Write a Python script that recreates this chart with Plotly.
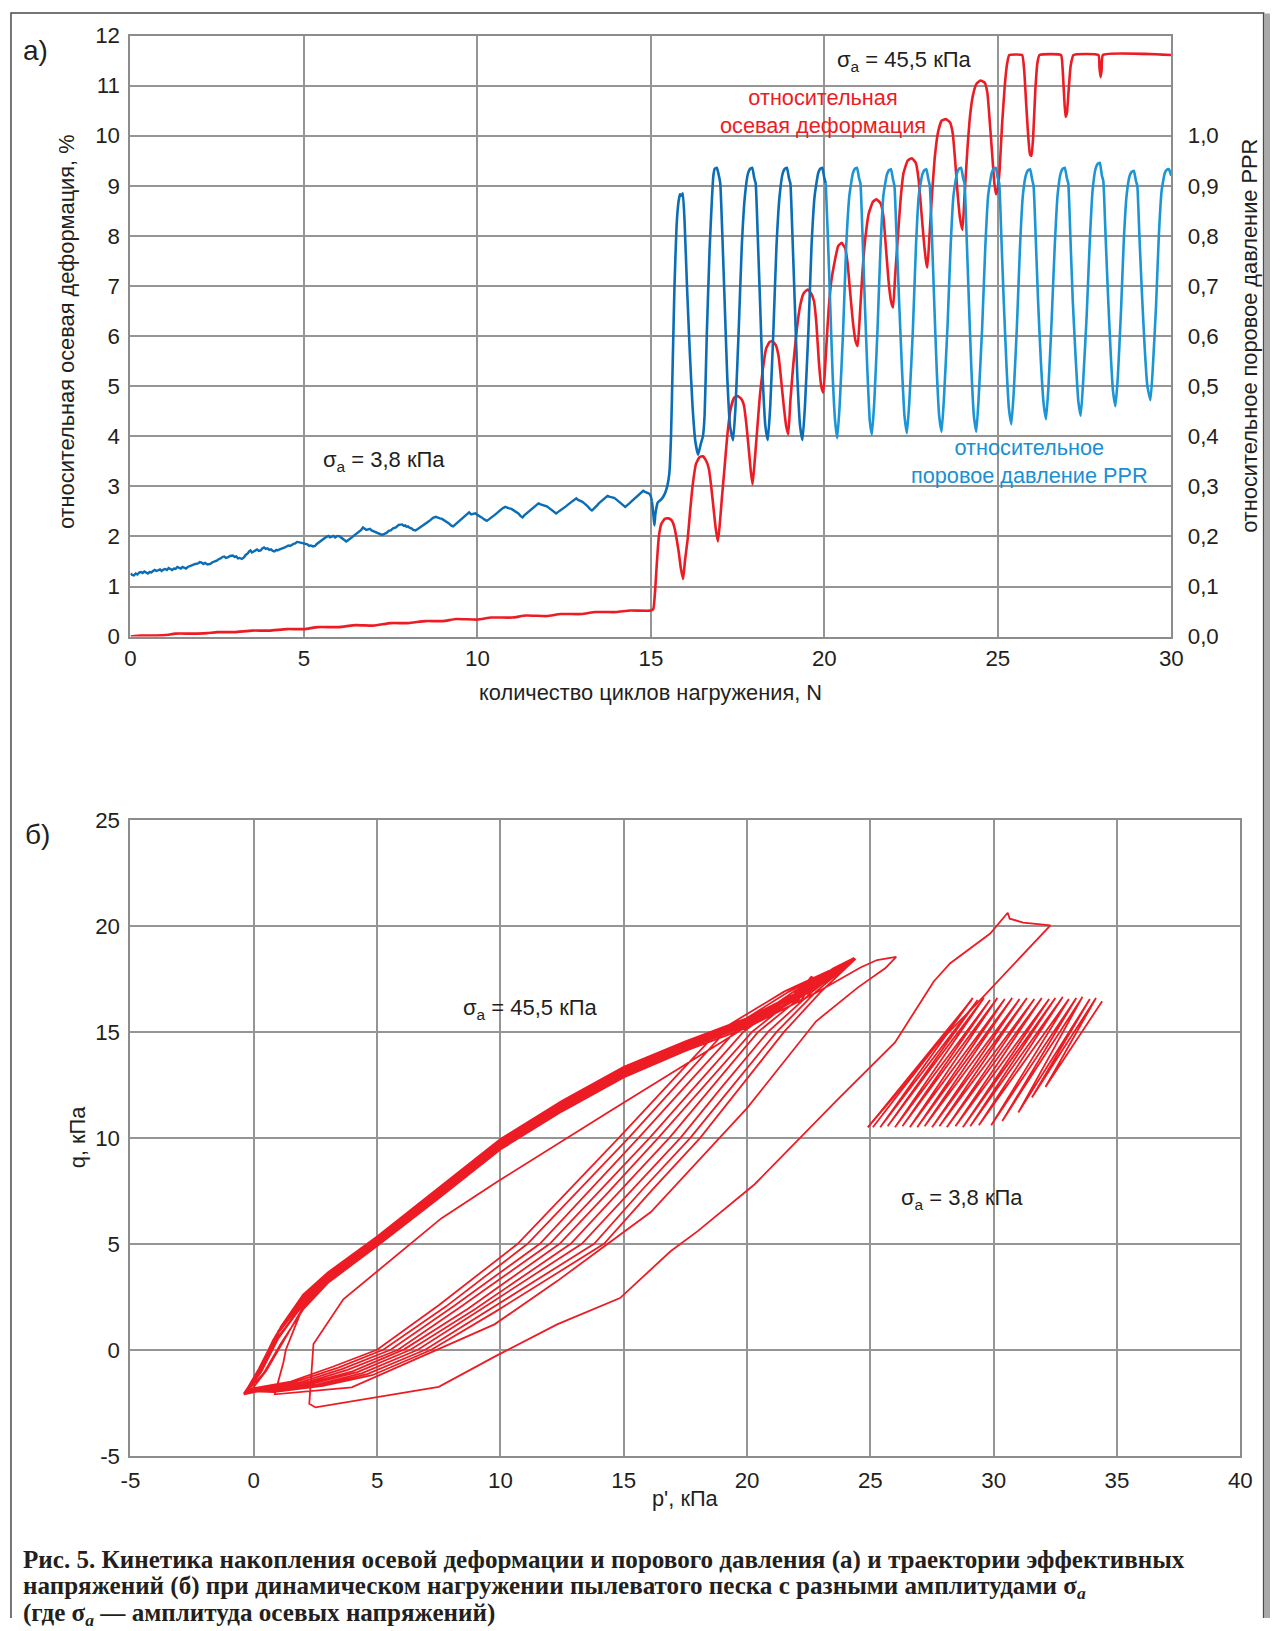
import plotly.graph_objects as go

W, H = 1282, 1631

# ---------------- panel (a): data ----------------
cycle_ticks = [0, 5, 10, 15, 20, 25, 30]
strain_ticks = list(range(0, 13))
ppr_tickvals = [0.0, 0.1, 0.2, 0.3, 0.4, 0.5, 0.6, 0.7, 0.8, 0.9, 1.0]
ppr_ticktext = ["0,0", "0,1", "0,2", "0,3", "0,4", "0,5", "0,6", "0,7", "0,8", "0,9", "1,0"]

# relative axial strain, % (N, value)
strain_pts = [
    (0, 0.0), (0.3, 0.02), (0.6, 0.02), (1.0, 0.03), (1.3, 0.06), (1.8, 0.06), (2.2, 0.07), (2.5, 0.09),
    (3.0, 0.09), (3.5, 0.12), (4.0, 0.12), (4.5, 0.15), (5.0, 0.15), (5.4, 0.19), (6.0, 0.19), (6.5, 0.23),
    (7.0, 0.22), (7.5, 0.27), (8.0, 0.27), (8.5, 0.31), (9.0, 0.31), (9.4, 0.35), (10.0, 0.34), (10.4, 0.38),
    (11.0, 0.38), (11.4, 0.42), (12.0, 0.41), (12.4, 0.45), (13.0, 0.45), (13.4, 0.49), (14.0, 0.49),
    (14.4, 0.52), (15.0, 0.52), (15.07, 0.55), (15.12, 0.9), (15.17, 1.45), (15.23, 2.0), (15.3, 2.25),
    (15.4, 2.35), (15.5, 2.36), (15.6, 2.32), (15.67, 2.2), (15.73, 2.0), (15.8, 1.7), (15.86, 1.38),
    (15.93, 1.15), (15.98, 1.5), (16.06, 1.95), (16.13, 2.5), (16.2, 3.0), (16.3, 3.45), (16.4, 3.58),
    (16.5, 3.6), (16.6, 3.5), (16.67, 3.35), (16.73, 3.05), (16.8, 2.6), (16.87, 2.15), (16.93, 1.9),
    (16.98, 2.2), (17.05, 2.8), (17.12, 3.35), (17.2, 4.0), (17.3, 4.55), (17.4, 4.77), (17.5, 4.8),
    (17.6, 4.75), (17.68, 4.62), (17.75, 4.25), (17.82, 3.75), (17.88, 3.3), (17.93, 3.04), (17.98, 3.4),
    (18.06, 4.1), (18.14, 4.8), (18.22, 5.3), (18.32, 5.75), (18.42, 5.88), (18.5, 5.9), (18.6, 5.82),
    (18.68, 5.6), (18.75, 5.15), (18.83, 4.6), (18.9, 4.2), (18.96, 4.04), (19.02, 4.7), (19.1, 5.4),
    (19.2, 6.1), (19.3, 6.6), (19.4, 6.85), (19.52, 6.93), (19.62, 6.85), (19.7, 6.7), (19.77, 6.25),
    (19.84, 5.5), (19.91, 5.0), (19.97, 4.87), (20.04, 5.6), (20.12, 6.5), (20.2, 7.1), (20.3, 7.5),
    (20.4, 7.8), (20.5, 7.86), (20.6, 7.75), (20.67, 7.45), (20.74, 6.9), (20.82, 6.3), (20.9, 5.9),
    (20.96, 5.8), (21.03, 6.5), (21.1, 7.3), (21.18, 7.95), (21.28, 8.45), (21.4, 8.68), (21.5, 8.73),
    (21.62, 8.65), (21.7, 8.4), (21.77, 7.8), (21.85, 7.1), (21.92, 6.7), (21.98, 6.57), (22.04, 7.2),
    (22.12, 8.0), (22.2, 8.75), (22.28, 9.25), (22.4, 9.5), (22.52, 9.55), (22.64, 9.45), (22.72, 9.1),
    (22.8, 8.45), (22.88, 7.8), (22.94, 7.45), (22.97, 7.37), (23.03, 8.0), (23.1, 8.8), (23.18, 9.55),
    (23.27, 10.05), (23.38, 10.3), (23.5, 10.33), (23.62, 10.27), (23.7, 10.05), (23.77, 9.5),
    (23.84, 8.85), (23.91, 8.35), (23.98, 8.12), (24.04, 8.8), (24.12, 9.7), (24.2, 10.4), (24.28, 10.8),
    (24.38, 11.03), (24.5, 11.1), (24.62, 11.06), (24.7, 10.85), (24.77, 10.25), (24.84, 9.6),
    (24.9, 9.05), (24.95, 8.83), (25.0, 8.95), (25.05, 9.3), (25.12, 10.2), (25.2, 11.0), (25.27, 11.45),
    (25.33, 11.61), (25.7, 11.61), (25.76, 11.3), (25.82, 10.6), (25.88, 9.95), (25.93, 9.62),
    (25.97, 9.6), (26.02, 10.0), (26.08, 10.9), (26.14, 11.45), (26.2, 11.61), (26.82, 11.61),
    (26.87, 11.3), (26.91, 10.8), (26.95, 10.38), (26.99, 10.45), (27.04, 10.9), (27.1, 11.4),
    (27.18, 11.61), (27.9, 11.61), (27.93, 11.35), (27.96, 11.17), (27.99, 11.3), (28.03, 11.61),
    (30.0, 11.61),
]

# pore pressure ratio PPR during the 3.8 kPa stage (noisy, slowly rising)
ppr_stage1_pts = [
    (0, 0.126), (0.05, 0.123), (0.1, 0.122), (0.15, 0.126), (0.2, 0.124), (0.25, 0.128), (0.3, 0.129),
    (0.35, 0.127), (0.4, 0.130), (0.45, 0.128), (0.5, 0.126), (0.55, 0.129), (0.6, 0.128), (0.65, 0.131),
    (0.7, 0.133), (0.75, 0.131), (0.8, 0.133), (0.85, 0.134), (0.9, 0.131), (0.95, 0.134), (1.0, 0.135),
    (1.05, 0.133), (1.1, 0.137), (1.15, 0.135), (1.2, 0.133), (1.25, 0.136), (1.3, 0.135), (1.35, 0.139),
    (1.4, 0.138), (1.45, 0.136), (1.5, 0.139), (1.55, 0.138), (1.6, 0.136), (1.65, 0.139), (1.7, 0.140),
    (1.75, 0.142), (1.8, 0.143), (1.87, 0.145), (1.95, 0.146), (2.0, 0.149), (2.05, 0.148),
    (2.1, 0.145), (2.15, 0.147), (2.22, 0.144), (2.3, 0.145), (2.35, 0.148), (2.4, 0.149), (2.45, 0.151),
    (2.5, 0.152), (2.55, 0.155), (2.6, 0.156), (2.65, 0.159), (2.7, 0.160), (2.75, 0.157), (2.8, 0.158),
    (2.87, 0.161), (2.95, 0.162), (3.0, 0.159), (3.05, 0.160), (3.1, 0.156), (3.15, 0.157),
    (3.21, 0.155), (3.27, 0.158), (3.32, 0.163), (3.38, 0.166), (3.42, 0.170), (3.46, 0.172),
    (3.5, 0.168), (3.55, 0.170), (3.6, 0.173), (3.65, 0.174), (3.7, 0.171), (3.75, 0.172), (3.8, 0.176),
    (3.85, 0.178), (3.9, 0.175), (3.95, 0.176), (4.0, 0.173), (4.05, 0.174), (4.1, 0.171), (4.15, 0.170),
    (4.2, 0.173), (4.23, 0.172), (4.3, 0.174), (4.35, 0.175), (4.4, 0.177), (4.45, 0.178), (4.5, 0.180),
    (4.55, 0.182), (4.6, 0.181), (4.65, 0.184), (4.7, 0.185), (4.75, 0.186), (4.8, 0.189), (4.87, 0.188),
    (4.93, 0.187), (5.0, 0.186), (5.05, 0.185), (5.1, 0.184), (5.15, 0.181), (5.2, 0.182), (5.26, 0.180),
    (5.32, 0.181), (5.37, 0.185), (5.42, 0.188), (5.46, 0.190), (5.5, 0.192), (5.55, 0.195), (5.6, 0.197),
    (5.65, 0.199), (5.71, 0.201), (5.75, 0.198), (5.8, 0.199), (5.85, 0.201), (5.9, 0.198), (5.96, 0.201),
    (6.03, 0.200), (6.08, 0.197), (6.12, 0.196), (6.17, 0.192), (6.22, 0.190), (6.28, 0.193),
    (6.33, 0.195), (6.4, 0.199), (6.45, 0.202), (6.5, 0.205), (6.55, 0.207), (6.6, 0.210), (6.65, 0.213),
    (6.7, 0.218), (6.73, 0.216), (6.8, 0.213), (6.85, 0.214), (6.9, 0.215), (6.95, 0.212), (7.02, 0.210),
    (7.1, 0.208), (7.17, 0.205), (7.25, 0.203), (7.32, 0.205), (7.38, 0.207), (7.44, 0.211), (7.5, 0.212),
    (7.57, 0.216), (7.65, 0.218), (7.73, 0.223), (7.83, 0.224), (7.88, 0.221), (7.92, 0.222),
    (7.96, 0.219), (8.0, 0.220), (8.05, 0.217), (8.1, 0.216), (8.15, 0.213), (8.21, 0.212), (8.28, 0.215),
    (8.35, 0.218), (8.42, 0.222), (8.5, 0.226), (8.57, 0.229), (8.65, 0.233), (8.72, 0.237), (8.8, 0.239),
    (8.86, 0.237), (8.92, 0.236), (8.98, 0.235), (9.05, 0.232), (9.12, 0.229), (9.18, 0.226),
    (9.24, 0.222), (9.3, 0.220), (9.35, 0.223), (9.4, 0.226), (9.45, 0.229), (9.5, 0.233), (9.56, 0.236),
    (9.62, 0.240), (9.69, 0.245), (9.76, 0.248), (9.82, 0.244), (9.88, 0.245), (9.94, 0.246),
    (10.0, 0.243), (10.06, 0.241), (10.12, 0.238), (10.2, 0.234), (10.27, 0.231), (10.33, 0.234),
    (10.4, 0.237), (10.45, 0.240), (10.5, 0.243), (10.57, 0.247), (10.65, 0.252), (10.72, 0.256),
    (10.8, 0.259), (10.86, 0.257), (10.92, 0.256), (10.98, 0.255), (11.05, 0.252), (11.12, 0.249),
    (11.18, 0.246), (11.24, 0.241), (11.3, 0.238), (11.35, 0.242), (11.4, 0.245), (11.45, 0.249),
    (11.5, 0.252), (11.56, 0.255), (11.62, 0.259), (11.69, 0.263), (11.76, 0.266), (11.82, 0.264),
    (11.88, 0.263), (11.94, 0.262), (12.0, 0.260), (12.06, 0.257), (12.12, 0.254), (12.2, 0.249),
    (12.27, 0.246), (12.33, 0.249), (12.4, 0.252), (12.47, 0.256), (12.55, 0.260), (12.62, 0.264),
    (12.7, 0.268), (12.77, 0.271), (12.85, 0.276), (12.9, 0.273), (12.95, 0.272), (13.0, 0.270),
    (13.05, 0.268), (13.12, 0.264), (13.18, 0.260), (13.24, 0.255), (13.3, 0.252), (13.35, 0.255),
    (13.4, 0.258), (13.45, 0.262), (13.5, 0.266), (13.56, 0.270), (13.62, 0.274), (13.68, 0.278),
    (13.75, 0.281), (13.82, 0.279), (13.88, 0.278), (13.94, 0.277), (14.0, 0.274), (14.06, 0.271),
    (14.12, 0.268), (14.19, 0.263), (14.26, 0.259), (14.32, 0.262), (14.38, 0.266), (14.44, 0.270),
    (14.5, 0.274), (14.57, 0.278), (14.65, 0.283), (14.72, 0.287), (14.78, 0.291), (14.83, 0.289),
    (14.88, 0.288), (14.93, 0.286), (14.97, 0.284), (15.0, 0.280), (15.03, 0.270),
]

# pore pressure ratio PPR at the start of the 45.5 kPa stage (darker blue)
ppr_dark_pts = [
    (15.03, 0.270),
    (15.07, 0.245), (15.1, 0.222), (15.13, 0.245), (15.2, 0.268), (15.3, 0.274), (15.4, 0.285),
    (15.47, 0.300), (15.53, 0.325), (15.58, 0.40), (15.63, 0.55), (15.68, 0.70), (15.74, 0.82),
    (15.8, 0.870), (15.84, 0.883), (15.88, 0.880), (15.92, 0.885), (15.97, 0.83), (16.04, 0.70),
    (16.12, 0.57), (16.2, 0.46), (16.28, 0.39), (16.36, 0.363),
    (16.44, 0.385), (16.5, 0.40), (16.55, 0.445), (16.61, 0.60), (16.69, 0.77), (16.76, 0.875),
    (16.8, 0.92), (16.84, 0.934), (16.9, 0.936), (16.96, 0.92), (17.0, 0.905), (17.06, 0.80),
    (17.13, 0.66), (17.2, 0.52), (17.28, 0.42), (17.37, 0.392),
    (17.44, 0.46), (17.53, 0.61), (17.62, 0.78), (17.71, 0.88), (17.8, 0.925), (17.86, 0.934),
    (17.92, 0.936), (17.98, 0.915), (18.02, 0.905), (18.08, 0.80), (18.15, 0.66), (18.22, 0.52),
    (18.3, 0.42), (18.37, 0.392),
    (18.44, 0.46), (18.53, 0.61), (18.62, 0.78), (18.71, 0.88), (18.8, 0.925), (18.86, 0.934),
    (18.92, 0.936), (18.98, 0.915), (19.02, 0.905), (19.08, 0.80), (19.15, 0.66), (19.22, 0.52),
    (19.3, 0.42), (19.37, 0.392),
    (19.44, 0.46), (19.54, 0.61), (19.63, 0.78), (19.72, 0.88), (19.82, 0.925), (19.88, 0.934),
    (19.94, 0.936), (20.0, 0.915), (20.04, 0.905),
]

# pore pressure ratio PPR, later cycles (lighter blue)
ppr_light_pts = [
    (20.04, 0.905), (20.1, 0.80), (20.17, 0.66), (20.24, 0.52), (20.31, 0.43), (20.37, 0.396),
    (20.44, 0.46), (20.54, 0.61), (20.63, 0.78), (20.72, 0.88), (20.82, 0.925), (20.88, 0.934),
    (20.94, 0.936), (21.0, 0.915), (21.04, 0.905), (21.1, 0.80), (21.17, 0.66), (21.24, 0.53),
    (21.31, 0.43), (21.37, 0.403),
    (21.44, 0.47), (21.53, 0.61), (21.62, 0.78), (21.7, 0.88), (21.8, 0.922), (21.86, 0.931),
    (21.92, 0.933), (21.98, 0.912), (22.02, 0.90), (22.08, 0.80), (22.16, 0.66), (22.24, 0.53),
    (22.31, 0.44), (22.38, 0.406),
    (22.45, 0.47), (22.55, 0.61), (22.64, 0.78), (22.72, 0.88), (22.82, 0.922), (22.88, 0.931),
    (22.94, 0.933), (23.0, 0.912), (23.04, 0.90), (23.1, 0.80), (23.17, 0.66), (23.24, 0.53),
    (23.31, 0.44), (23.38, 0.409),
    (23.45, 0.48), (23.55, 0.62), (23.64, 0.78), (23.72, 0.88), (23.82, 0.925), (23.88, 0.934),
    (23.94, 0.936), (24.0, 0.915), (24.04, 0.905), (24.1, 0.80), (24.17, 0.66), (24.24, 0.53),
    (24.31, 0.44), (24.38, 0.409),
    (24.45, 0.48), (24.55, 0.62), (24.64, 0.78), (24.72, 0.88), (24.82, 0.925), (24.88, 0.934),
    (24.94, 0.936), (25.0, 0.915), (25.04, 0.905), (25.1, 0.80), (25.17, 0.67), (25.25, 0.54),
    (25.32, 0.455), (25.39, 0.424),
    (25.46, 0.49), (25.55, 0.62), (25.64, 0.78), (25.72, 0.88), (25.81, 0.922), (25.87, 0.931),
    (25.93, 0.933), (25.99, 0.912), (26.03, 0.90), (26.09, 0.80), (26.16, 0.67), (26.24, 0.55),
    (26.32, 0.465), (26.39, 0.434),
    (26.46, 0.50), (26.55, 0.63), (26.64, 0.78), (26.72, 0.88), (26.81, 0.925), (26.87, 0.934),
    (26.93, 0.936), (26.99, 0.915), (27.03, 0.905), (27.09, 0.80), (27.16, 0.67), (27.24, 0.56),
    (27.32, 0.47), (27.39, 0.441),
    (27.46, 0.51), (27.56, 0.64), (27.65, 0.79), (27.73, 0.89), (27.82, 0.935), (27.88, 0.944),
    (27.94, 0.946), (28.0, 0.92), (28.04, 0.91), (28.1, 0.81), (28.17, 0.69), (28.25, 0.57),
    (28.32, 0.49), (28.39, 0.46),
    (28.46, 0.52), (28.55, 0.65), (28.63, 0.79), (28.71, 0.88), (28.8, 0.92), (28.86, 0.928),
    (28.92, 0.93), (28.98, 0.91), (29.02, 0.90), (29.08, 0.80), (29.15, 0.69), (29.23, 0.58),
    (29.31, 0.50), (29.4, 0.472),
    (29.47, 0.54), (29.56, 0.66), (29.64, 0.80), (29.72, 0.89), (29.81, 0.925), (29.87, 0.932),
    (29.93, 0.933), (30.0, 0.92),
]

# ---------------- panel (b): data ----------------
p_ticks = [-5, 0, 5, 10, 15, 20, 25, 30, 35, 40]
q_ticks = [-5, 0, 5, 10, 15, 20, 25]

# stress path at sigma_a = 3.8 kPa (p', q)
path_38 = [
    (34.4, 16.45), (32.1, 12.4), (34.15, 16.6), (31.55, 11.9), (33.9, 16.55), (31.0, 11.2),
    (33.6, 16.65), (30.35, 10.8), (33.35, 16.6), (29.9, 10.6), (33.05, 16.55), (29.4, 10.6),
    (32.8, 16.65), (29.05, 10.55), (32.5, 16.6), (28.75, 10.5), (32.25, 16.55), (28.45, 10.55),
    (31.95, 16.6), (28.1, 10.5), (31.65, 16.55), (27.8, 10.55), (31.35, 16.6), (27.5, 10.5),
    (31.05, 16.55), (27.2, 10.55), (30.75, 16.6), (26.9, 10.5), (30.45, 16.55), (26.6, 10.5),
    (30.15, 16.6), (26.3, 10.55), (29.85, 16.5), (26.0, 10.5), (29.6, 16.6), (25.7, 10.55),
    (29.35, 16.5), (25.4, 10.5), (29.15, 16.6), (25.1, 10.5), (29.1, 16.5), (24.9, 10.5),
]

# stress path at sigma_a = 45.5 kPa (p', q)
path_455 = [
    (24.9, 10.5), (26.3, 12.4), (27.6, 14.3), (29.25, 16.25), (32.3, 20.03), (31.2, 20.16),
    (30.65, 20.34), (30.57, 20.62), (29.86, 19.64), (28.24, 18.24), (27.57, 17.38), (26.0, 14.5),
    (23.65, 11.78), (20.3, 7.8), (18.0, 5.6), (16.9, 4.65), (14.85, 2.44), (12.3, 1.2), (9.9, -0.24),
    (7.5, -1.75), (2.5, -2.72), (2.25, -2.55), (2.42, 0.27), (3.63, 2.38), (7.6, 6.2), (9.9, 7.95),
    (14.5, 11.3), (19.5, 14.9), (23.5, 18.0), (24.35, 18.5),
    (22.9, 17.2), (20, 15.3), (17.5, 14.2), (15, 12.95), (12.5, 11.35), (10, 9.55), (7.5, 7.25),
    (5, 4.95), (3, 3.2), (2, 2.05), (1.3, 0.0), (1.2, -0.6), (0.85, -2.1),
    (3.97, -1.77), (9.76, 1.2), (12.3, 3.24), (16.1, 6.5), (20, 11.4), (22.8, 15.5), (24.5, 17.1),
    (25.6, 18.0), (26.05, 18.54), (25.27, 18.39), (24.6, 18.04),
    (22.8, 16.85), (20, 15.2), (17.5, 14.1), (15, 12.85), (12.5, 11.25), (10, 9.45), (7.5, 7.15),
    (5, 4.9), (3, 3.15), (2, 1.9), (1.1, 0.3), (0.4, -1.1), (-0.4, -2.1),
    (0.3, -1.93), (2.15, -1.6), (4.0, -1.02), (6.1, 0.02), (8.7, 1.95), (12.4, 5.0), (14.35, 7.4),
    (16.4, 10.0), (18.3, 12.5), (20.2, 15.0), (22.25, 16.9), (24.3, 18.4),
    (23.6, 17.9), (22.8, 17.3), (20, 15.6), (17.5, 14.5), (15, 13.3), (12.5, 11.7), (10, 9.9),
    (7.5, 7.6), (5, 5.3), (3, 3.6), (2, 2.5), (1, 0.9), (0.3, -0.8), (-0.2, -1.9),
    (-0.2, -1.85), (1.5, -1.5), (3.2, -0.8), (5.0, 0.0), (7.5, 2.1), (10.7, 5.0), (12.5, 7.2),
    (14.8, 10.0), (16.8, 12.5), (18.8, 15.0), (21.5, 16.9), (24.2, 18.35),
    (23.3, 17.5), (22.6, 17.2), (22.2, 16.5), (21.6, 16.6), (20, 15.3), (17.5, 14.2), (15, 13.0),
    (12.5, 11.4), (10, 9.6), (7.5, 7.3), (5, 5.0), (3, 3.3), (2, 2.1), (0.9, 0.5), (0.2, -1.1),
    (-0.3, -1.95),
    (0.55, -1.96), (2.5, -1.65), (4.4, -1.1), (6.65, 0.0), (9.2, 1.9), (13.3, 5.0), (15.3, 7.5),
    (17.3, 10.0), (19.05, 12.5), (20.85, 15.0), (22.65, 16.9), (24.35, 18.43),
    (22.8, 17.15), (20, 15.5), (17.5, 14.4), (15, 13.2), (12.5, 11.6), (10, 9.8), (7.5, 7.5),
    (5, 5.2), (3, 3.5), (2, 2.35), (0.9, 0.7), (0.2, -0.9), (-0.35, -2.0),
    (0.05, -1.89), (1.85, -1.55), (3.6, -0.9), (5.55, 0.0), (8.1, 2.05), (11.6, 5.0), (13.45, 7.3),
    (15.6, 10.0), (17.55, 12.5), (19.5, 15.0), (21.9, 16.9), (24.25, 18.38),
    (23.4, 17.7), (22.9, 17.5), (22.5, 16.8), (21.9, 16.9), (20, 15.4), (17.5, 14.3), (15, 13.1),
    (12.5, 11.5), (10, 9.7), (7.5, 7.4), (5, 5.1), (3, 3.4), (2, 2.2), (1, 0.6), (0.3, -1.0),
    (-0.3, -1.95),
    (0.68, -1.98), (2.65, -1.68), (4.6, -1.15), (6.95, 0.0), (9.5, 1.85), (13.8, 5.0), (15.75, 7.55),
    (17.7, 10.0), (19.45, 12.5), (21.2, 15.0), (22.8, 16.9), (24.38, 18.44),
    (22.8, 17.3), (20, 15.65), (17.5, 14.55), (15, 13.35), (12.5, 11.75), (10, 9.95), (7.5, 7.65),
    (5, 5.35), (3, 3.65), (2, 2.6), (1.1, 1.1), (0.4, -0.6), (-0.25, -1.9),
    (0.18, -1.91), (2.0, -1.58), (3.8, -0.95), (5.85, 0.0), (8.35, 2.0), (12.0, 5.0), (13.9, 7.35),
    (16.05, 10.0), (17.95, 12.5), (19.85, 15.0), (22.05, 16.9), (24.28, 18.39),
    (22.7, 17.0), (20, 15.2), (17.5, 14.1), (15, 12.9), (12.5, 11.3), (10, 9.5), (7.5, 7.2),
    (5, 4.9), (3, 3.2), (2, 2.0), (1.2, 0.4), (0.5, -1.0), (-0.1, -1.9),
    (-0.08, -1.87), (1.65, -1.52), (3.4, -0.85), (5.25, 0.0), (7.8, 2.05), (11.1, 5.0), (12.95, 7.25),
    (15.2, 10.0), (17.15, 12.5), (19.1, 15.0), (21.7, 16.9), (24.22, 18.36),
    (23.0, 17.4), (22.6, 17.6), (22.0, 16.7), (20, 15.45), (17.5, 14.35), (15, 13.15), (12.5, 11.55),
    (10, 9.75), (7.5, 7.45), (5, 5.15), (3, 3.45), (2, 2.3), (0.8, 0.5), (0.1, -1.2), (-0.4, -2.05),
    (0.42, -1.94), (2.3, -1.62), (4.2, -1.05), (6.35, 0.0), (8.95, 1.9), (12.85, 5.0), (14.8, 7.45),
    (16.85, 10.0), (18.65, 12.5), (20.45, 15.0), (22.45, 16.9), (24.32, 18.41),
    (22.8, 17.1), (20, 15.35), (17.5, 14.25), (15, 13.05), (12.5, 11.45), (10, 9.65), (7.5, 7.35),
    (5, 5.05), (3, 3.35), (2, 2.15), (1, 0.55), (0.3, -1.05), (-0.3, -1.95),
    (0.8, -2.0), (2.8, -1.7), (4.8, -1.2), (7.2, 0.0), (9.8, 1.8), (14.2, 5.0), (16.2, 7.6),
    (18.1, 10.0), (19.8, 12.5), (21.5, 15.0), (23.0, 16.9), (24.4, 18.45),
    (22.8, 17.2), (20, 15.55), (17.5, 14.45), (15, 13.25), (12.5, 11.65), (10, 9.85), (7.5, 7.55),
    (5, 5.25), (3, 3.55), (2, 2.4), (1, 0.8), (0.3, -0.9), (-0.3, -2.0),
]

# ---------------- styling ----------------
RED = "#ed1c24"
BLUE_DARK = "#0b6db5"
BLUE_LIGHT = "#1b95d5"
TXT = "#231f20"
GRID = "#959595"
SANS = "Liberation Sans, Arial, sans-serif"
SERIF = "Liberation Serif, Times New Roman, serif"


def unzip(pts):
    return [p[0] for p in pts], [p[1] for p in pts]


sx, sy = unzip(strain_pts)
ax_, ay_ = unzip(ppr_stage1_pts)
dx, dy = unzip(ppr_dark_pts)
lx, ly = unzip(ppr_light_pts)
p38, q38 = unzip(path_38)
p455, q455 = unzip(path_455)


# the photographed page shows the canvas slightly scaled and offset;
# these map a wanted on-screen pixel position to a figure pixel position
def X(t):
    return (t - 9.5) / 0.983


def Y(t):
    return (t - 11.5) / 0.9845


def px(x):
    return min(max(X(x), 0.5), W - 0.5) / W


def py(y):
    return 1 - min(max(Y(y), 0.5), H - 0.5) / H


fig = go.Figure()
fig.add_trace(go.Scatter(x=ax_, y=ay_, mode="lines", xaxis="x", yaxis="y2",
                         line=dict(color=BLUE_DARK, width=2.4),
                         showlegend=False, hoverinfo="skip"))
fig.add_trace(go.Scatter(x=dx, y=dy, mode="lines", xaxis="x", yaxis="y2",
                         line=dict(color=BLUE_DARK, width=2.6, shape="spline", smoothing=0.4),
                         showlegend=False, hoverinfo="skip"))
fig.add_trace(go.Scatter(x=lx, y=ly, mode="lines", xaxis="x", yaxis="y2",
                         line=dict(color=BLUE_LIGHT, width=2.6, shape="spline", smoothing=0.4),
                         showlegend=False, hoverinfo="skip"))
fig.add_trace(go.Scatter(x=sx, y=sy, mode="lines", xaxis="x", yaxis="y",
                         line=dict(color=RED, width=2.6, shape="spline", smoothing=0.4),
                         showlegend=False, hoverinfo="skip"))
fig.add_trace(go.Scatter(x=p38, y=q38, mode="lines", xaxis="x2", yaxis="y3",
                         line=dict(color=RED, width=1.8), showlegend=False, hoverinfo="skip"))
fig.add_trace(go.Scatter(x=p455, y=q455, mode="lines", xaxis="x2", yaxis="y3",
                         line=dict(color=RED, width=1.8), showlegend=False, hoverinfo="skip"))

tickfont = dict(family=SANS, size=22.3, color=TXT)
axis_common = dict(showgrid=True, gridcolor=GRID, gridwidth=1.5, zeroline=False,
                   showline=True, linecolor="#8c8c8c", linewidth=2, mirror=True,
                   ticks="outside", tickcolor="rgba(0,0,0,0)", tickfont=tickfont)

fig.update_layout(
    width=W, height=H,
    margin=dict(l=0, r=0, t=0, b=0),
    paper_bgcolor="white", plot_bgcolor="white",
    showlegend=False,
    xaxis=dict(domain=[px(130), px(1171)], anchor="y", range=[0, 30],
               tickvals=cycle_ticks, ticktext=[str(v) for v in cycle_ticks], ticklen=1, **axis_common),
    yaxis=dict(domain=[py(636), py(35)], anchor="x", range=[0, 12],
               tickvals=strain_ticks, ticktext=[str(v) for v in strain_ticks], ticklen=4, **axis_common),
    yaxis2=dict(overlaying="y", side="right", anchor="x", range=[0, 1.2],
                tickvals=ppr_tickvals, ticktext=ppr_ticktext, showgrid=False, zeroline=False,
                showline=False, ticks="outside", ticklen=11, tickcolor="rgba(0,0,0,0)",
                tickfont=tickfont),
    xaxis2=dict(domain=[px(130), px(1240)], anchor="y3", range=[-5, 40],
                tickvals=p_ticks, ticktext=[str(v) for v in p_ticks], ticklen=3, **axis_common),
    yaxis3=dict(domain=[py(1455), py(819.3)], anchor="x2", range=[-5, 25],
                tickvals=q_ticks, ticktext=[str(v) for v in q_ticks], ticklen=4, **axis_common),
)


def ann(text, x, y, size=21.8, color=TXT, angle=0, xanchor="center", yanchor="middle",
        xref="paper", yref="paper", family=SANS, align="center"):
    fig.add_annotation(text=text, x=x, y=y, xref=xref, yref=yref, showarrow=False,
                       font=dict(family=family, size=size, color=color), textangle=angle,
                       xanchor=xanchor, yanchor=yanchor, align=align)


# panel labels
ann("а)", px(35), py(50), size=28)
ann("б)", px(37), py(834), size=28)

# axis titles
ann("относительная осевая деформация, %", px(66), py(331), angle=-90)
ann("относительное поровое давление PPR", px(1249), py(335), angle=-90)
ann("количество циклов нагружения, N", px(650), py(692))
ann("q, кПа", px(77), py(1136), angle=-90)
ann("p', кПа", px(685), py(1498))

# in-plot labels, panel (a)
ann("σ<sub>a</sub> = 45,5 кПа", 22.3, 11.5, size=22, xref="x", yref="y")
ann("σ<sub>a</sub> = 3,8 кПа", 7.3, 3.5, size=22, xref="x", yref="y")
ann("относительная<br>осевая деформация", 19.97, 10.48, size=21.7, color=RED, xref="x", yref="y")
ann("относительное<br>поровое давление PPR", 25.9, 3.49, size=21.7, color="#1a8fd3", xref="x", yref="y")

# in-plot labels, panel (b)
ann("σ<sub>a</sub> = 45,5 кПа", 11.2, 16.1, size=22, xref="x2", yref="y3")
ann("σ<sub>a</sub> = 3,8 кПа", 28.7, 7.1, size=22, xref="x2", yref="y3")

# caption
cap = [
    "<b>Рис. 5. Кинетика накопления осевой деформации и порового давления (а) и траектории эффективных</b>",
    "<b>напряжений (б) при динамическом нагружении пылеватого песка с разными амплитудами σ<sub><i>a</i></sub></b>",
    "<b>(где σ<sub><i>a</i></sub> — амплитуда осевых напряжений)</b>",
]
for i, line in enumerate(cap):
    ann(line, px(21), py(1559 + 27.5 * i), size=25.1, family=SERIF, xanchor="left", align="left")

# frame (left, top, right) with a shadow strip on the right, kept inside the canvas
fig.add_shape(type="rect", xref="paper", yref="paper", x0=(W - 5.5) / W, x1=1, y0=0, y1=py(13),
              line=dict(width=0), fillcolor="#a9a9a9", layer="below")
fig.add_shape(type="path", xref="paper", yref="paper",
              path=f"M {1.0 / W},0 L {1.0 / W},{1 - 1.0 / H} L {(W - 6.5) / W},{1 - 1.0 / H} L {(W - 6.5) / W},0",
              line=dict(color="#4a4a4a", width=1.5))

fig.write_html(
    "out.html",
    config={"displayModeBar": False, "responsive": False},
    post_script="var h=document.documentElement,b=document.body;"
                "h.style.margin='0';h.style.padding='0';h.style.overflow='hidden';"
                "b.style.margin='0';b.style.padding='0';b.style.overflow='hidden';",
)
